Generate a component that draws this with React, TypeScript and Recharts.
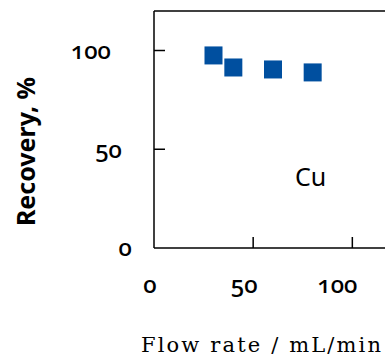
import React from 'react';
import { ScatterChart, Scatter, XAxis, YAxis, ReferenceDot, ReferenceLine, Label } from 'recharts';

const flowRates = [30, 40, 60, 80];
const recovery = [97.5, 91.4, 90.4, 88.9];
const xTicks = [0, 50, 100];
const yTicks = [0, 50, 100];

const data = flowRates.map((x, i) => ({ x, y: recovery[i] }));

const tickFont = {
	fontFamily: 'Noto Sans',
	fontSize: 24,
	fontWeight: 500,
	fontVariantNumeric: 'oldstyle-nums',
} as React.CSSProperties;

// label offsets from the tick, as in the original
const yShift: Record<number, number> = { 0: -22, 50: -32, 100: -43 };
const xShift: Record<number, number> = { 0: -4, 50: -9, 100: -15 };

const YTick = (props: any) => {
	const { x, y, payload } = props;
	return (
		<g>
			{payload.value !== 0 && <line x1={x} x2={x + 11} y1={y} y2={y} stroke="#000" strokeWidth={1.5} />}
			<text x={x + yShift[payload.value]} y={y} dy="0.35em" textAnchor="end" fill="#000" style={tickFont}>
				{payload.value}
			</text>
		</g>
	);
};

const XTick = (props: any) => {
	const { x, y, payload } = props;
	return (
		<g>
			{payload.value !== 0 && <line x1={x} x2={x} y1={y} y2={y - 11} stroke="#000" strokeWidth={1.5} />}
			<text x={x + xShift[payload.value]} y={y + 37} dy="0.35em" textAnchor="middle" fill="#000" style={tickFont}>
				{payload.value}
			</text>
		</g>
	);
};

const Square = (props: any) => {
	const { cx, cy } = props;
	return <rect x={cx - 9} y={cy - 9} width={18} height={18} fill="#004f9f" />;
};

export default function App() {
	return (
		<div style={{ position: 'absolute', left: 0, top: 0, width: 385, height: 358, overflow: 'hidden', background: '#fff' }}>
			<ScatterChart width={400} height={358} margin={{ top: 11, right: 8, left: 0, bottom: 0 }}>
				<XAxis
					type="number"
					dataKey="x"
					domain={[0, 120]}
					ticks={xTicks}
					height={110}
					tickSize={0}
					tickMargin={0}
					tickLine={false}
					axisLine={{ stroke: '#000', strokeWidth: 1.5 }}
					tick={<XTick />}
					interval={0}
				>
					<Label
						content={({ viewBox }: any) => (
							<text
								x={viewBox.x - 13}
								y={viewBox.y + 97}
								dy="0.35em"
								textAnchor="start"
								textLength={240}
								lengthAdjust="spacing"
								fill="#000"
								style={{ fontFamily: 'DejaVu Serif', fontSize: 21 }}
							>
								Flow rate / mL/min
							</text>
						)}
					/>
				</XAxis>
				<YAxis
					type="number"
					dataKey="y"
					domain={[0, 120]}
					ticks={yTicks}
					width={154}
					tickSize={0}
					tickMargin={0}
					tickLine={false}
					axisLine={{ stroke: '#000', strokeWidth: 1.5 }}
					tick={<YTick />}
					interval={0}
				>
					<Label
						content={({ viewBox }: any) => {
							const cx = viewBox.x + 26;
							const cy = viewBox.y + viewBox.height / 2 + 22;
							return (
								<text
									x={cx}
									y={cy}
									dy="0.35em"
									textAnchor="middle"
									fill="#000"
									transform={`rotate(-90 ${cx} ${cy})`}
									style={{ fontFamily: 'Noto Sans', fontWeight: 700, fontSize: 25 }}
								>
									Recovery, %
								</text>
							);
						}}
					/>
				</YAxis>
				<ReferenceLine y={120} stroke="#000" strokeWidth={1.5} />
				<Scatter data={data} shape={<Square />} isAnimationActive={false} />
				<ReferenceDot x={79} y={36} r={0} stroke="none" fill="none">
					<Label value="Cu" position="center" fill="#000" style={{ fontFamily: 'Noto Sans', fontSize: 25 }} />
				</ReferenceDot>
			</ScatterChart>
		</div>
	);
}
